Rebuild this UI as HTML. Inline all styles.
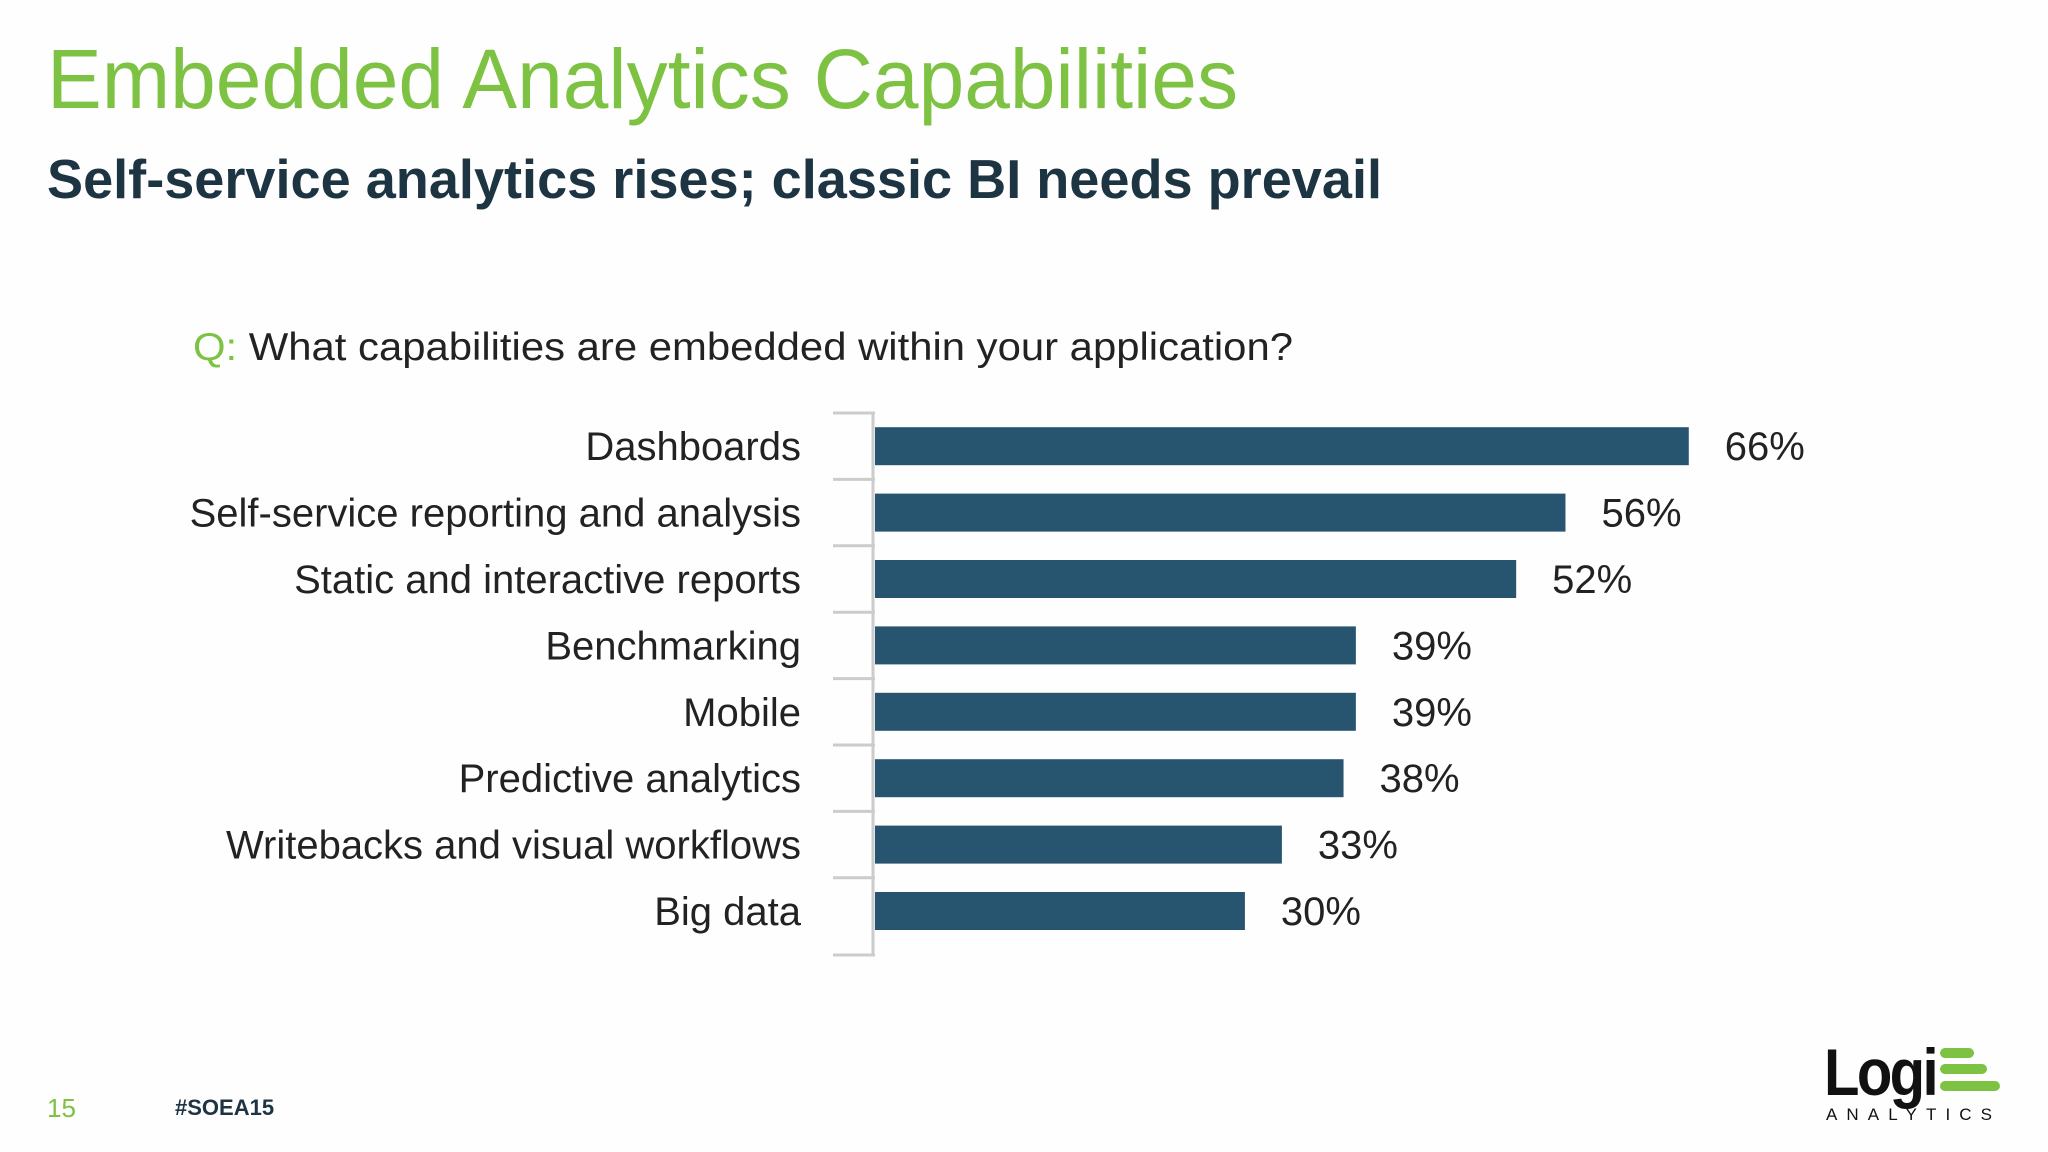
<!DOCTYPE html>
<html><head><meta charset="utf-8"><style>
html,body{margin:0;padding:0;background:#fefefe;}
svg{display:block;font-family:"Liberation Sans",sans-serif;}
</style></head><body>
<svg id="chart" width="2048" height="1152" viewBox="0 0 2048 1152">
<rect width="2048" height="1152" fill="#fefefe"/>
<text x="47" y="108" font-size="84" fill="#7dc242" textLength="1191" lengthAdjust="spacingAndGlyphs">Embedded Analytics Capabilities</text>
<text x="47" y="198" font-size="55" font-weight="bold" fill="#1d3443" textLength="1335" lengthAdjust="spacingAndGlyphs">Self-service analytics rises; classic BI needs prevail</text>
<text x="193" y="360" font-size="39" fill="#222" textLength="1100" lengthAdjust="spacingAndGlyphs"><tspan fill="#7dc242">Q:</tspan> What capabilities are embedded within your application?</text>
<g id="axis"></g>
<g id="bars"></g>
<text x="47" y="1117" font-size="26" fill="#7dc242">15</text>
<text x="175" y="1115" font-size="22" font-weight="bold" fill="#1d3443">#SOEA15</text>
<g>
<text x="1824" y="1095" font-size="66" font-weight="bold" fill="#111" letter-spacing="-3" textLength="112" lengthAdjust="spacingAndGlyphs">Logi</text>
<rect x="1940" y="1048" width="34" height="10" rx="5" fill="#7dc242"/>
<rect x="1940" y="1064" width="47" height="10" rx="5" fill="#7dc242"/>
<rect x="1940" y="1081" width="60" height="10" rx="5" fill="#7dc242"/>
<text x="1826" y="1120" font-size="17" fill="#111" textLength="166" lengthAdjust="spacing">ANALYTICS</text>
</g>
</svg>
<script>
const categories=["Dashboards","Self-service reporting and analysis","Static and interactive reports","Benchmarking","Mobile","Predictive analytics","Writebacks and visual workflows","Big data"];
const values=[66,56,52,39,39,38,33,30];
const valueLabels=["66%","56%","52%","39%","39%","38%","33%","30%"];
const ns="http://www.w3.org/2000/svg";
const x0=875, pxPer=12.33, yTop=413, yBottom=955, band=66.4;
function xs(v){return x0+v*pxPer;}
function yc(i){return yTop+band*(i+0.5);}
function mk(t,a,p){const e=document.createElementNS(ns,t);for(const k in a)e.setAttribute(k,a[k]);p.appendChild(e);return e;}
const ax=document.getElementById('axis'), bg=document.getElementById('bars');
const al=mk('line',{x1:x0-2,x2:x0-2,y1:yTop,y2:yBottom,stroke:'#ccc','stroke-width':3},ax);


for(let i=0;i<=categories.length;i++){
 const y=i<categories.length?yTop+band*i:yBottom;
 const t=mk('line',{x1:833,x2:x0,y1:y,y2:y,stroke:'#ccc','stroke-width':3},ax);
 
 
}
categories.forEach((c,i)=>{
 const y=yc(i);
 const lb=mk('text',{x:801,y:y+14,'text-anchor':'end','font-size':40,fill:'#222'},ax);
 lb.textContent=c;
 
 
 const r=mk('rect',{x:x0,y:y-19,width:xs(values[i])-x0,height:38,fill:'#27546e'},bg);
 
 
 const v=mk('text',{x:xs(values[i])+36,y:y+14,'font-size':40,fill:'#222'},bg);
 v.textContent=valueLabels[i];
 
 
});
</script>
</body></html>
